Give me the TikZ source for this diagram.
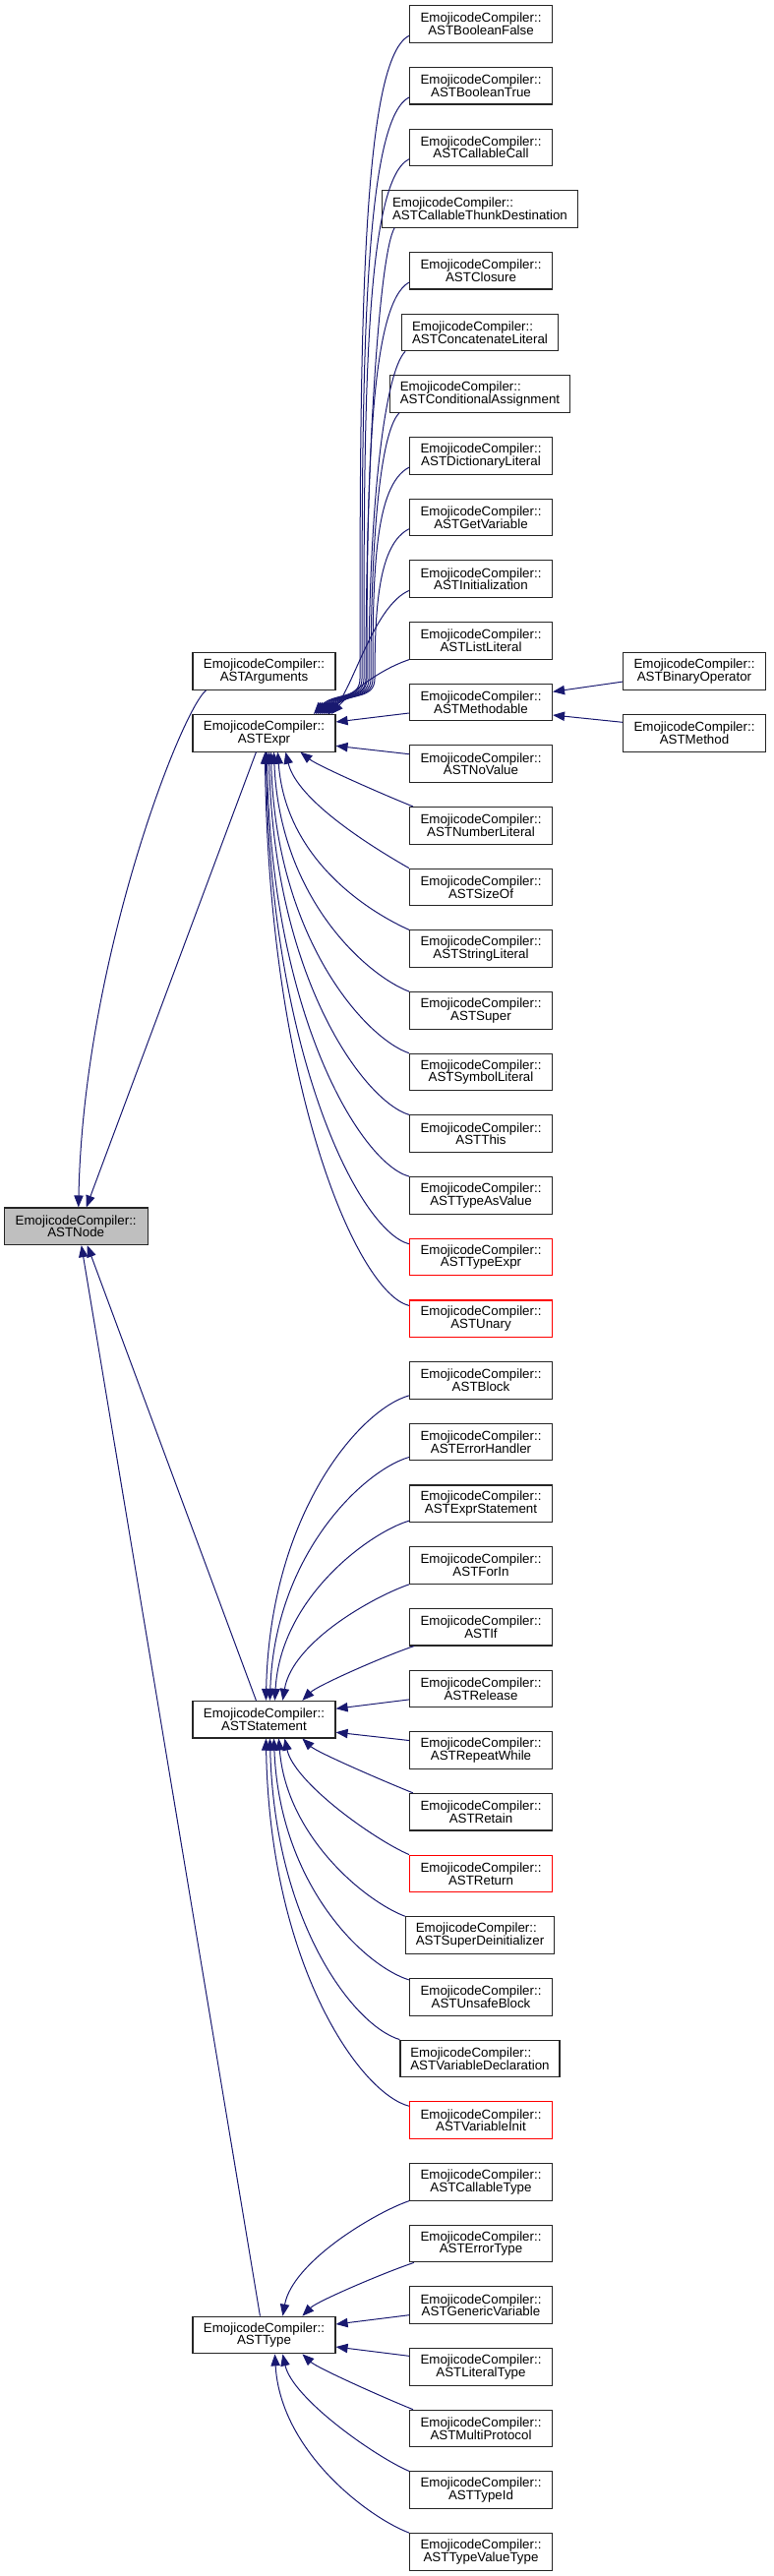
\documentclass[tikz,border=0pt]{standalone}
\usepackage{fontspec}
\newfontfamily\clsfont{Liberation Sans}
\usetikzlibrary{arrows.meta,calc}
\definecolor{edgeblue}{RGB}{25,25,112}
\definecolor{rootgray}{RGB}{191,191,191}
\tikzset{
  cls/.style={draw=black!85, line width=0.85pt, fill=white, font=\clsfont\fontsize{10pt}{9.5pt}\selectfont,
    align=center, minimum width=108.75pt, minimum height=28.2pt, inner xsep=7.8pt, inner ysep=1pt},
  widecls/.style={cls, align=left},
  redcls/.style={cls, draw=red},
  rootcls/.style={cls, fill=rootgray},
  inh/.style={draw=edgeblue, line width=0.75pt, {Triangle[length=9pt,width=7pt]}-}
}
\begin{document}
\begin{tikzpicture}[x=0.75pt,y=-0.75pt]
\useasboundingbox (0,0) rectangle (787,2619);
% root and level 1
\node[rootcls,minimum width=109.3pt] (astnode) at (77.2,1246.8) {EmojicodeCompiler::\\ASTNode};
\node[cls] (args) at (268.5,682.6) {EmojicodeCompiler::\\ASTArguments};
\node[cls] (expr) at (268.5,745.3) {EmojicodeCompiler::\\ASTExpr};
\node[cls] (stmt) at (268.5,1748.2) {EmojicodeCompiler::\\ASTStatement};
\node[cls] (type) at (268.5,2374.0) {EmojicodeCompiler::\\ASTType};
% level 3
\node[cls] (binop) at (706,682.6) {EmojicodeCompiler::\\ASTBinaryOperator};
\node[cls] (method) at (706,745.3) {EmojicodeCompiler::\\ASTMethod};
% level 2
\node[cls] (bfalse) at (489,24.5) {EmojicodeCompiler::\\ASTBooleanFalse};
\node[cls] (btrue) at (489,87.2) {EmojicodeCompiler::\\ASTBooleanTrue};
\node[cls] (ccall) at (489,149.9) {EmojicodeCompiler::\\ASTCallableCall};
\node[widecls] (thunk) at (488,212.5) {EmojicodeCompiler::\\ASTCallableThunkDestination};
\node[cls] (closure) at (489,275.2) {EmojicodeCompiler::\\ASTClosure};
\node[widecls] (concat) at (488,337.9) {EmojicodeCompiler::\\ASTConcatenateLiteral};
\node[widecls] (cond) at (488,400.6) {EmojicodeCompiler::\\ASTConditionalAssignment};
\node[cls] (dict) at (489,463.3) {EmojicodeCompiler::\\ASTDictionaryLiteral};
\node[cls] (getvar) at (489,525.9) {EmojicodeCompiler::\\ASTGetVariable};
\node[cls] (init) at (489,588.6) {EmojicodeCompiler::\\ASTInitialization};
\node[cls] (listlit) at (489,651.3) {EmojicodeCompiler::\\ASTListLiteral};
\node[cls] (methodable) at (489,714.0) {EmojicodeCompiler::\\ASTMethodable};
\node[cls] (novalue) at (489,776.7) {EmojicodeCompiler::\\ASTNoValue};
\node[cls] (numlit) at (489,839.3) {EmojicodeCompiler::\\ASTNumberLiteral};
\node[cls] (sizeof) at (489,902.0) {EmojicodeCompiler::\\ASTSizeOf};
\node[cls] (strlit) at (489,964.7) {EmojicodeCompiler::\\ASTStringLiteral};
\node[cls] (super) at (489,1027.4) {EmojicodeCompiler::\\ASTSuper};
\node[cls] (symlit) at (489,1090.1) {EmojicodeCompiler::\\ASTSymbolLiteral};
\node[cls] (this) at (489,1152.7) {EmojicodeCompiler::\\ASTThis};
\node[cls] (tav) at (489,1215.4) {EmojicodeCompiler::\\ASTTypeAsValue};
\node[redcls] (typeexpr) at (489,1278.1) {EmojicodeCompiler::\\ASTTypeExpr};
\node[redcls] (unary) at (489,1340.8) {EmojicodeCompiler::\\ASTUnary};
\node[cls] (block) at (489,1403.5) {EmojicodeCompiler::\\ASTBlock};
\node[cls] (errh) at (489,1466.1) {EmojicodeCompiler::\\ASTErrorHandler};
\node[cls] (exprst) at (489,1528.8) {EmojicodeCompiler::\\ASTExprStatement};
\node[cls] (forin) at (489,1591.5) {EmojicodeCompiler::\\ASTForIn};
\node[cls] (ifn) at (489,1654.2) {EmojicodeCompiler::\\ASTIf};
\node[cls] (release) at (489,1716.9) {EmojicodeCompiler::\\ASTRelease};
\node[cls] (repeat) at (489,1779.5) {EmojicodeCompiler::\\ASTRepeatWhile};
\node[cls] (retain) at (489,1842.2) {EmojicodeCompiler::\\ASTRetain};
\node[redcls] (return) at (489,1904.9) {EmojicodeCompiler::\\ASTReturn};
\node[widecls] (superdeinit) at (488,1967.6) {EmojicodeCompiler::\\ASTSuperDeinitializer};
\node[cls] (unsafe) at (489,2030.3) {EmojicodeCompiler::\\ASTUnsafeBlock};
\node[widecls] (vardecl) at (488,2092.9) {EmojicodeCompiler::\\ASTVariableDeclaration};
\node[redcls] (varinit) at (489,2155.6) {EmojicodeCompiler::\\ASTVariableInit};
\node[cls] (ctype) at (489,2218.3) {EmojicodeCompiler::\\ASTCallableType};
\node[cls] (errtype) at (489,2281.0) {EmojicodeCompiler::\\ASTErrorType};
\node[cls] (genvar) at (489,2343.7) {EmojicodeCompiler::\\ASTGenericVariable};
\node[cls] (littype) at (489,2406.3) {EmojicodeCompiler::\\ASTLiteralType};
\node[cls] (multiproto) at (489,2469.0) {EmojicodeCompiler::\\ASTMultiProtocol};
\node[cls] (typeid) at (489,2531.7) {EmojicodeCompiler::\\ASTTypeId};
\node[cls] (tvt) at (489,2594.4) {EmojicodeCompiler::\\ASTTypeValueType};
% root edges
\draw[inh] ($(astnode.north west)+(76,0)$) .. controls +(5,-250) and +(-25,20) .. ($(args.south west)+(14,0)$);
\draw[inh] ($(astnode.north west)+(84,0)$) -- ($(expr.south west)+(65,0)$);
\draw[inh] ($(astnode.south west)+(85,0)$) -- ($(stmt.north west)+(65,0)$);
\draw[inh] ($(astnode.south west)+(79,0)$) -- ($(type.north west)+(69,0)$);
% methodable
\draw[inh] ($(methodable.east)+(0,-10.7)$) -- ($(binop.west)+(0,10.5)$);
\draw[inh] ($(methodable.east)+(0,13)$) -- ($(method.west)+(0,-11)$);
% expr children above
\draw[inh] ($(expr.north west)+(123.5,0)$) .. controls +(20,-22) and +(0,22) .. (366,690) .. controls +(0,-327) and +(-50,25) .. ($(bfalse.south west)+(0,-7.5)$);
\draw[inh] ($(expr.north west)+(125.5,0)$) .. controls +(20,-22) and +(0,22) .. (368,690) .. controls +(0,-296) and +(-48,24) .. ($(btrue.south west)+(0,-7.5)$);
\draw[inh] ($(expr.north west)+(127.5,0)$) .. controls +(20,-22) and +(0,22) .. (370,690) .. controls +(0,-265) and +(-46,23) .. ($(ccall.south west)+(0,-7.5)$);
\draw[inh] ($(expr.north west)+(129.5,0)$) .. controls +(20,-22) and +(0,22) .. (372,690) .. controls +(0,-230) and +(-15,25) .. ($(thunk.south west)+(13,0)$);
\draw[inh] ($(expr.north west)+(131.5,0)$) .. controls +(20,-22) and +(0,22) .. (373,690) .. controls +(0,-202) and +(-40,22) .. ($(closure.south west)+(0,-7.5)$);
\draw[inh] ($(expr.north west)+(133.5,0)$) .. controls +(20,-22) and +(0,22) .. (375,690) .. controls +(0,-167) and +(-22,22) .. ($(concat.south west)+(4,0)$);
\draw[inh] ($(expr.north west)+(135.5,0)$) .. controls +(20,-22) and +(0,22) .. (377,690) .. controls +(0,-135) and +(-20,20) .. ($(cond.south west)+(10,0)$);
\draw[inh] ($(expr.north west)+(137.5,0)$) .. controls +(20,-22) and +(0,22) .. (379,690) .. controls +(0,-108) and +(-35,18) .. ($(dict.south west)+(0,-7.5)$);
\draw[inh] ($(expr.north west)+(138.5,0)$) .. controls +(20,-22) and +(0,22) .. (381,690) .. controls +(0,-77) and +(-30,15) .. ($(getvar.south west)+(0,-7.5)$);
\draw[inh] ($(expr.north west)+(139.5,0)$) .. controls +(25,-30) and +(-35,15) .. ($(init.south west)+(0,-7.5)$);
\draw[inh] ($(expr.north west)+(141.5,0)$) .. controls +(20,-22) and +(-30,10) .. (listlit.south west);
\draw[inh] ($(expr.east)+(0,-11.3)$) -- ($(methodable.west)+(0,11)$);
\draw[inh] ($(expr.east)+(0,13)$) -- ($(novalue.west)+(0,-10)$);
% expr children below
\draw[inh] ($(expr.south west)+(110,0)$) .. controls +(18,14) and +(-30,-12) .. ($(numlit.north west)+(4,0)$);
\draw[inh] ($(expr.south west)+(95,0)$) .. controls +(12,50) and +(-35,-20) .. (sizeof.north west);
\draw[inh] ($(expr.south west)+(87,0)$) .. controls +(8,110) and +(-40,-18) .. (strlit.north west);
\draw[inh] ($(expr.south west)+(83,0)$) .. controls +(6,150) and +(-42,-16) .. (super.north west);
\draw[inh] ($(expr.south west)+(80,0)$) .. controls +(5,190) and +(-44,-15) .. (symlit.north west);
\draw[inh] ($(expr.south west)+(78,0)$) .. controls +(5,230) and +(-46,-14) .. (this.north west);
\draw[inh] ($(expr.south west)+(76,0)$) .. controls +(4,270) and +(-48,-13) .. (tav.north west);
\draw[inh] ($(expr.south west)+(75,0)$) .. controls +(4,310) and +(-50,-13) .. ($(typeexpr.north west)+(0,6)$);
\draw[inh] ($(expr.south west)+(74,0)$) .. controls +(4,345) and +(-52,-13) .. ($(unary.north west)+(0,6)$);
% statement children
\draw[inh] ($(stmt.north west)+(75,0)$) .. controls +(4,-190) and +(-50,14) .. ($(block.south west)+(0,-4)$);
\draw[inh] ($(stmt.north west)+(79,0)$) .. controls +(5,-150) and +(-45,13) .. ($(errh.south west)+(0,-4)$);
\draw[inh] ($(stmt.north west)+(84,0)$) .. controls +(6,-105) and +(-40,12) .. ($(exprst.south west)+(0,-2)$);
\draw[inh] ($(stmt.north west)+(92,0)$) .. controls +(10,-60) and +(-35,12) .. (forin.south west);
\draw[inh] ($(stmt.north west)+(112,0)$) .. controls +(15,-15) and +(-30,10) .. ($(ifn.south west)+(5,0)$);
\draw[inh] ($(stmt.east)+(0,-11)$) -- ($(release.west)+(0,11)$);
\draw[inh] ($(stmt.east)+(0,13)$) -- ($(repeat.west)+(0,-10)$);
\draw[inh] ($(stmt.south west)+(112,0)$) .. controls +(15,14) and +(-30,-12) .. ($(retain.north west)+(4,0)$);
\draw[inh] ($(stmt.south west)+(94,0)$) .. controls +(10,45) and +(-35,-15) .. (return.north west);
\draw[inh] ($(stmt.south west)+(88,0)$) .. controls +(8,100) and +(-40,-15) .. (superdeinit.north west);
\draw[inh] ($(stmt.south west)+(83,0)$) .. controls +(6,150) and +(-45,-14) .. ($(unsafe.north west)+(0,2)$);
\draw[inh] ($(stmt.south west)+(79,0)$) .. controls +(5,190) and +(-45,-13) .. (vardecl.north west);
\draw[inh] ($(stmt.south west)+(75,0)$) .. controls +(4,230) and +(-50,-13) .. ($(varinit.north west)+(0,5)$);
% type children
\draw[inh] ($(type.north west)+(92,0)$) .. controls +(10,-55) and +(-35,12) .. (ctype.south west);
\draw[inh] ($(type.north west)+(112,0)$) .. controls +(15,-15) and +(-30,10) .. ($(errtype.south west)+(5,0)$);
\draw[inh] ($(type.east)+(0,-11)$) -- ($(genvar.west)+(0,10)$);
\draw[inh] ($(type.east)+(0,12)$) -- ($(littype.west)+(0,-11)$);
\draw[inh] ($(type.south west)+(112,0)$) .. controls +(15,14) and +(-30,-12) .. ($(multiproto.north west)+(4,0)$);
\draw[inh] ($(type.south west)+(92,0)$) .. controls +(10,45) and +(-35,-15) .. (typeid.north west);
\draw[inh] ($(type.south west)+(84,0)$) .. controls +(6,100) and +(-40,-15) .. (tvt.north west);
\end{tikzpicture}
\end{document}
